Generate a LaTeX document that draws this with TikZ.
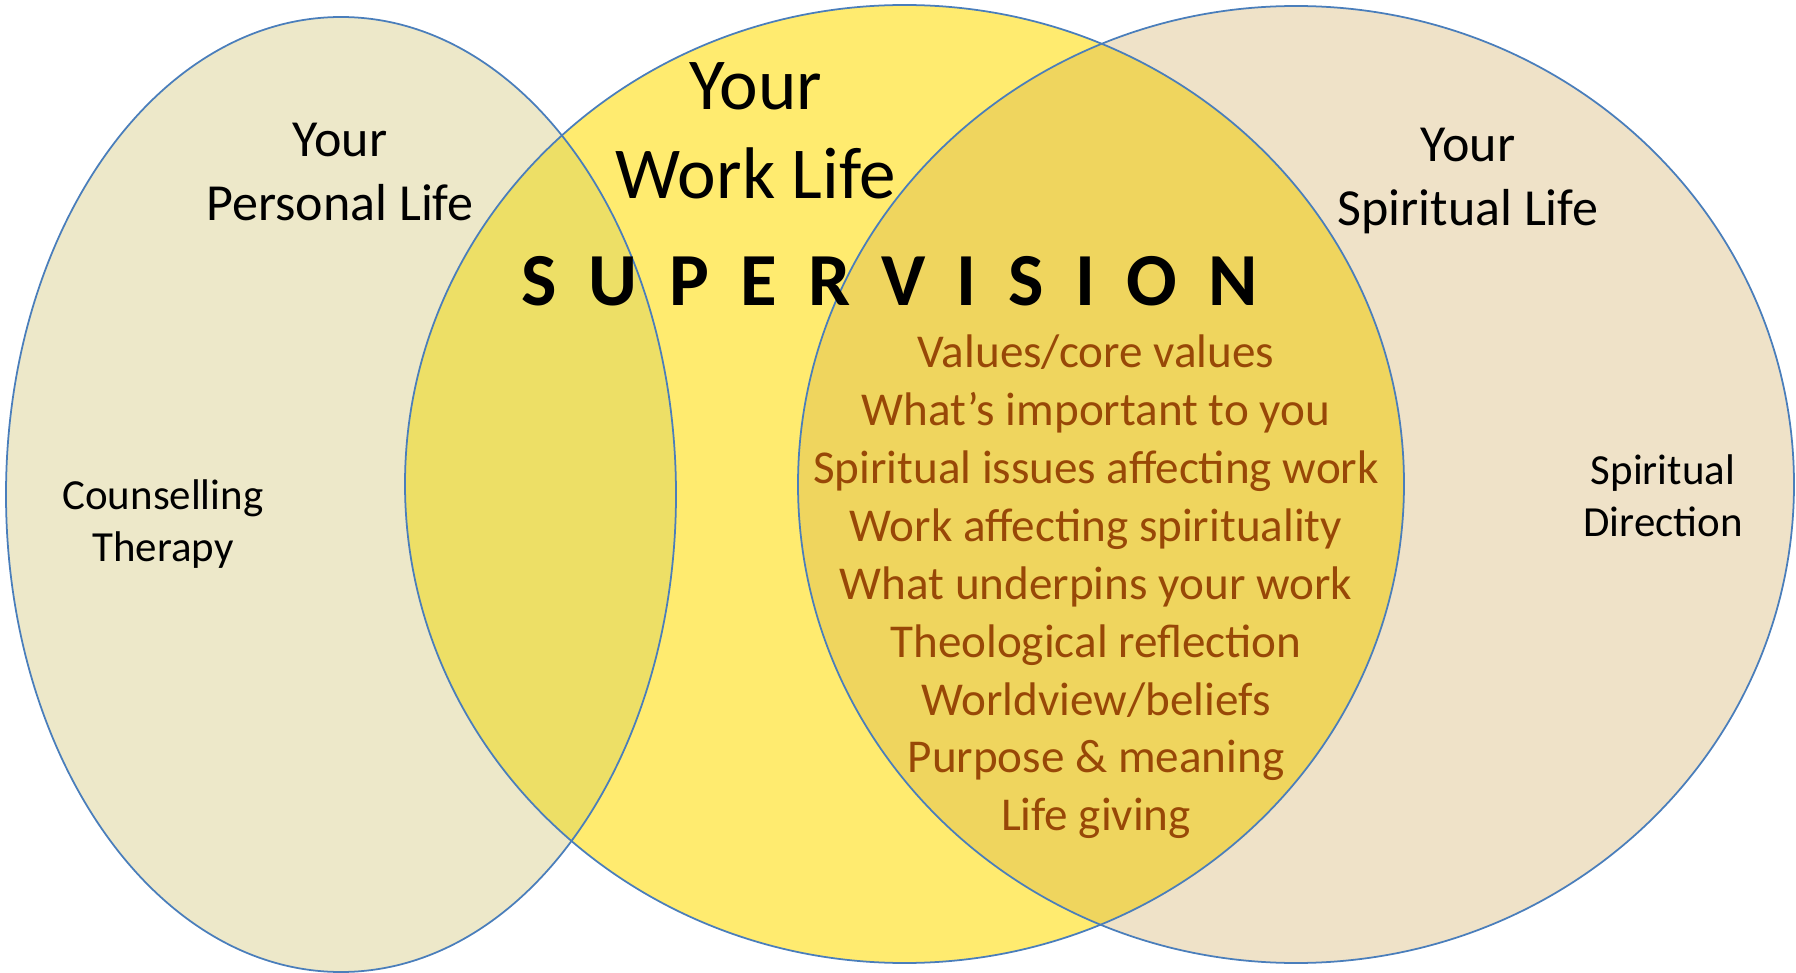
\documentclass[tikz,border=0pt]{standalone}
\usepackage{fontspec}
\setmainfont{Carlito}
\newfontfamily\spacedfont[LetterSpace=42]{Carlito}
\usetikzlibrary{positioning}

\definecolor{personalfill}{HTML}{EDE8C9}
\definecolor{workfill}{HTML}{FFEB6F}
\definecolor{spiritfill}{HTML}{EFE2C8}
\definecolor{personalwork}{HTML}{EDDF66}
\definecolor{workspirit}{HTML}{EFD55E}
\definecolor{rimblue}{HTML}{4A7EBB}
\definecolor{listbrown}{HTML}{984807}

\begin{document}
\begin{tikzpicture}[x=0.01cm,y=-0.01cm,
  rim/.style={draw=rimblue, line width=0.5pt},
  lifelabel/.style={align=center, inner sep=0pt, font=\fontsize{14.8}{18.2}\selectfont},
  worklabel/.style={align=center, inner sep=0pt, font=\fontsize{20.8}{25.3}\selectfont},
  sidelabel/.style={align=center, inner sep=0pt, font=\fontsize{12.2}{14.8}\selectfont},
  topiclist/.style={align=center, inner sep=0pt, text=listbrown, font=\fontsize{13.4}{16.45}\selectfont}]
  \useasboundingbox (0,0) rectangle (1796,973);

  \coordinate (personal) at (341,494.5);
  \coordinate (work) at (904.5,484);
  \coordinate (spirit) at (1296,484.5);

  % the three circles
  \fill[personalfill] (personal) ellipse (335 and 477.5);
  \fill[workfill] (work) ellipse (499.5 and 479);
  \fill[spiritfill] (spirit) ellipse (498 and 478.5);

  % overlaps
  \begin{scope}
    \clip (personal) ellipse (335 and 477.5);
    \fill[personalwork] (work) ellipse (499.5 and 479);
  \end{scope}
  \begin{scope}
    \clip (spirit) ellipse (498 and 478.5);
    \fill[workspirit] (work) ellipse (499.5 and 479);
  \end{scope}

  \draw[rim] (personal) ellipse (335 and 477.5);
  \draw[rim] (work) ellipse (499.5 and 479);
  \draw[rim] (spirit) ellipse (498 and 478.5);

  % labels
  \node[lifelabel] (personallabel) at (340,172) {Your\\Personal Life};
  \node[worklabel] (worklabel) at (756,131) {Your\\Work Life};
  \node[lifelabel] (spiritlabel) at (1468,181) {Your\\Spiritual Life};
  \node[font=\fontsize{21.3}{25}\spacedfont\bfseries, inner sep=0pt] (supervision) at (890,281) {SUPERVISION};
  \node[sidelabel] (counselling) at (163,524) {Counselling\\Therapy};
  \node[sidelabel] (direction) at (1663,496) {Spiritual\\Direction};
  \node[topiclist] (topics) at (1096,587) {Values/core values\\What’s important to you\\Spiritual issues affecting work\\Work affecting spirituality\\What underpins your work\\Theological reflection\\Worldview/beliefs\\Purpose \& meaning\\Life giving};
\end{tikzpicture}
\end{document}
